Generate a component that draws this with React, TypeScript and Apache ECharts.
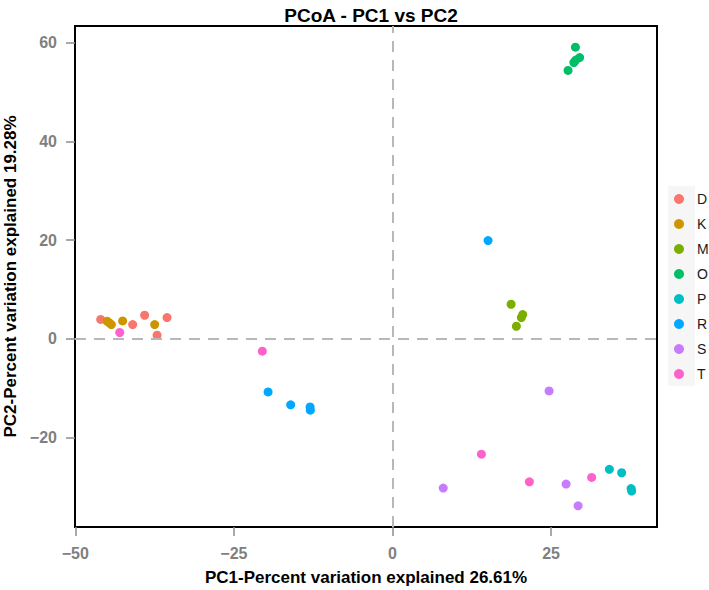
import React, { useEffect, useRef } from "react";
import * as echarts from "echarts";

const groups = ["D", "K", "M", "O", "P", "R", "S", "T"];
const groupColors = ["#F8766D", "#CD9600", "#7CAE00", "#00BE67", "#00BFC4", "#00A9FF", "#C77CFF", "#FF61CC"];

const pointsD = [[-46.0, 3.9], [-40.96, 2.86], [-39.07, 4.74], [-37.11, 0.69], [-35.54, 4.28]];
const pointsK = [[-44.99, 3.53], [-44.63, 3.18], [-44.32, 2.86], [-42.54, 3.59], [-37.49, 2.86]];
const pointsM = [[18.7, 6.97], [20.53, 4.88], [20.32, 4.28], [19.53, 2.51]];
const pointsO = [[28.84, 59.1], [29.5, 57.0], [28.9, 56.5], [28.6, 56.0], [27.68, 54.39]];
const pointsP = [[34.19, -26.5], [36.13, -27.2], [37.62, -30.4], [37.7, -30.9]];
const pointsR = [[-19.61, -10.8], [-16.05, -13.43], [-12.99, -13.84], [-12.95, -14.5], [15.07, 19.88]];
const pointsS = [[8.0, -30.3], [24.69, -10.6], [27.37, -29.5], [29.26, -33.9]];
const pointsT = [[-43.0, 1.24], [-20.52, -2.55], [14.02, -23.43], [21.58, -29.04], [31.4, -28.15]];
const groupPoints = [pointsD, pointsK, pointsM, pointsO, pointsP, pointsR, pointsS, pointsT];

const xTicks = [-50, -25, 0, 25];
const yTicks = [-20, 0, 20, 40, 60];
const xRange = [-50.05, 41.7];
const yRange = [-38.2, 63.4];

const titleText = "PCoA - PC1 vs PC2";
const xTitle = "PC1-Percent variation explained 26.61%";
const yTitle = "PC2-Percent variation explained 19.28%";

const FONT = "'Liberation Sans', Arial, Helvetica, sans-serif";

export default function App() {
  const ref = useRef<HTMLDivElement>(null);
  useEffect(() => {
    document.body.style.margin = "0";
    if (!ref.current) return;
    const chart = echarts.init(ref.current, undefined, { renderer: "svg" });
    const fmt = (v: number) => String(v).replace("-", "\u2212");
    const series: any[] = groups.map((g, i) => ({
      name: g,
      type: "scatter",
      data: groupPoints[i],
      symbol: "circle",
      symbolSize: 9,
      itemStyle: { color: groupColors[i], opacity: 1 },
      z: 3,
    }));
    series.push({
      type: "scatter",
      data: [],
      silent: true,
      markLine: {
        silent: true,
        symbol: "none",
        label: { show: false },
        lineStyle: { color: "#b8b8b8", width: 2, type: [11, 8] },
        data: [{ xAxis: 0 }, { yAxis: 0 }],
      },
      z: 1,
    });
    const axisCommon = {
      type: "value",
      nameLocation: "middle",
      nameMoveOverlap: false,
      nameTextStyle: { fontSize: 17, fontWeight: "bold", color: "#000", fontFamily: FONT },
      axisLine: { show: false, onZero: false },
      splitLine: { show: false },
    };
    const labelCommon = {
      margin: 18,
      fontSize: 16,
      fontWeight: "bold",
      color: "#7f7f7f",
      formatter: fmt,
      fontFamily: FONT,
    };
    chart.setOption({
      animation: false,
      textStyle: { fontFamily: FONT },
      title: {
        text: titleText,
        left: 366,
        top: 1,
        textAlign: "center",
        textStyle: { fontSize: 19, fontWeight: "bold", color: "#000", fontFamily: FONT },
      },
      grid: {
        left: 75,
        right: 52,
        top: 26,
        bottom: 63,
        show: true,
        borderColor: "#000",
        borderWidth: 2,
        backgroundColor: "transparent",
        containLabel: false,
        outerBoundsMode: "none",
      },
      legend: {
        orient: "vertical",
        left: 674,
        top: 191,
        padding: 0,
        itemWidth: 10,
        itemHeight: 10,
        itemGap: 9,
        icon: "circle",
        data: groups,
        textStyle: { fontSize: 14, color: "#1a1a1a", lineHeight: 16, padding: [0, 0, 0, 8], fontFamily: FONT },
      },
      graphic: [
        { type: "rect", left: 668, top: 186, z: -1, shape: { width: 27, height: 200 }, style: { fill: "#f6f6f6" } },
      ],
      xAxis: {
        ...axisCommon,
        min: xRange[0],
        max: xRange[1],
        name: xTitle,
        nameGap: 42,
        axisTick: { show: true, length: 9, customValues: xTicks, lineStyle: { color: "#8c8c8c", width: 1.5 } },
        axisLabel: { ...labelCommon, customValues: xTicks },
      },
      yAxis: {
        ...axisCommon,
        min: yRange[0],
        max: yRange[1],
        name: yTitle,
        nameGap: 56,
        axisTick: { show: true, length: 9, customValues: yTicks, lineStyle: { color: "#8c8c8c", width: 1.5 } },
        axisLabel: { ...labelCommon, customValues: yTicks },
      },
      series,
    });
    return () => chart.dispose();
  }, []);
  return <div ref={ref} style={{ position: "absolute", left: 0, top: 0, width: 709, height: 590 }} />;
}
